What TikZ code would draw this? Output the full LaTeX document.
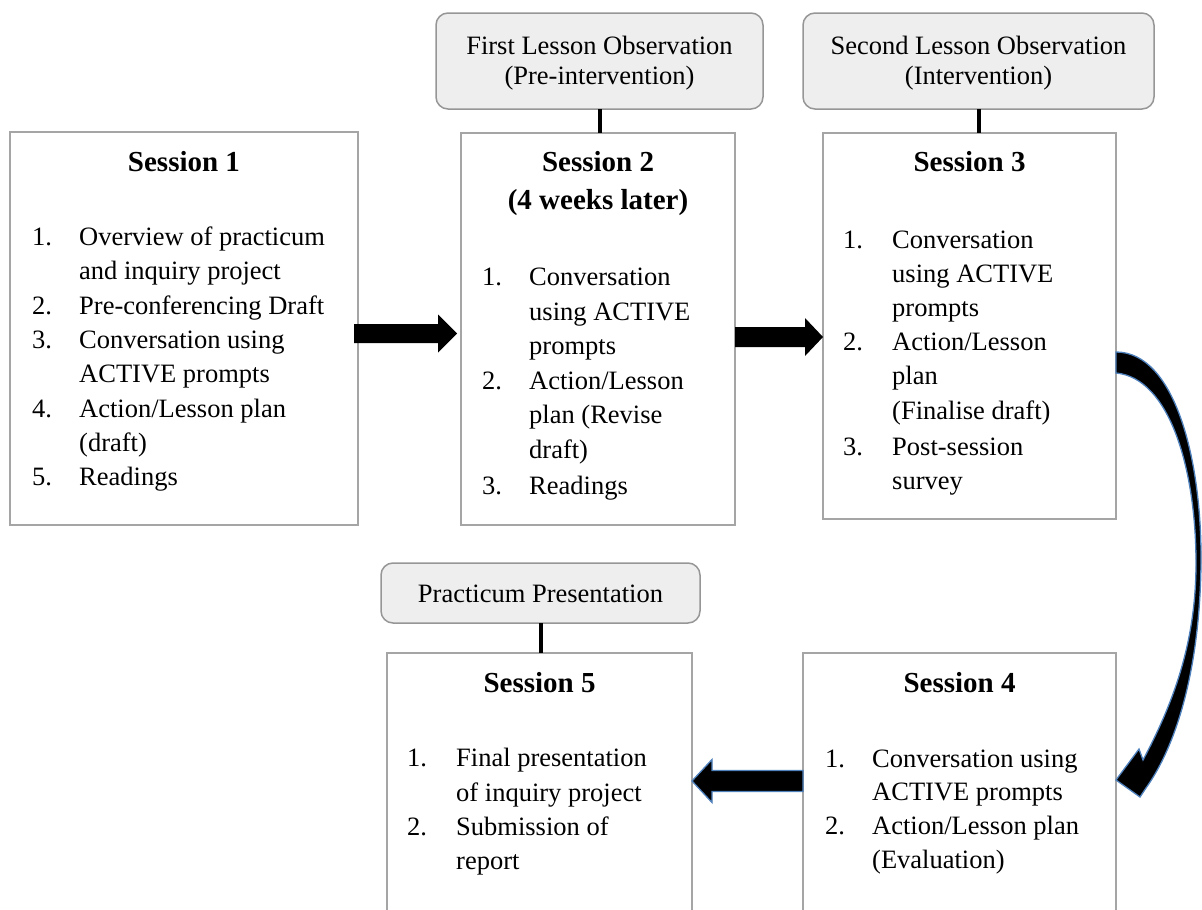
\documentclass[tikz,border=0pt]{standalone}
\usepackage{fontspec}
\setmainfont{Liberation Serif}
\usetikzlibrary{calc}
\definecolor{boxgray}{RGB}{165,165,165}
\definecolor{topfill}{RGB}{238,238,238}
\definecolor{topline}{RGB}{150,150,150}
\definecolor{arrowblue}{RGB}{79,129,189}
\begin{document}
\begin{tikzpicture}[x=1pt,y=-1pt,
  sess/.style={draw=boxgray, line width=1.5pt, fill=white, inner sep=0pt, outer sep=0pt},
  obs/.style={draw=topline, line width=1.5pt, fill=topfill, rounded corners=12pt, inner sep=0pt, outer sep=0pt},
  body/.style={font=\fontsize{26.5}{34}\selectfont, inner sep=0pt, anchor=base west},
  cbody/.style={font=\fontsize{26.5}{34}\selectfont, inner sep=0pt, anchor=base},
  ttl/.style={font=\fontsize{29}{38}\selectfont\bfseries, inner sep=0pt, anchor=base},
  conn/.style={line width=4pt, black},
  blk/.style={fill=black},
  blkb/.style={fill=black, draw=arrowblue, line width=1.3pt, line join=miter}]
\useasboundingbox (0,0) rectangle (1202,910);

% session boxes
\node[sess, minimum width=348pt, minimum height=393pt] (s1) at (184,328.5) {};
\node[sess, minimum width=274pt, minimum height=392pt] (s2) at (598,329) {};
\node[sess, minimum width=293pt, minimum height=386pt] (s3) at (969.5,326) {};
\node[sess, minimum width=305pt, minimum height=262pt] (s5) at (539.5,784) {};
\node[sess, minimum width=313pt, minimum height=262pt] (s4) at (959.5,784) {};

% top boxes
\node[obs, minimum width=327pt, minimum height=96pt] (obs1) at (599.5,61) {};
\node[obs, minimum width=351pt, minimum height=96pt] (obs2) at (978.5,61) {};
\node[obs, minimum width=319pt, minimum height=60pt] (pres) at (540.5,593) {};
\node[cbody] (obs1a) at (599.5,54) {First Lesson Observation};
\node[cbody] (obs1b) at (599.5,84) {(Pre-intervention)};
\node[cbody] (obs2a) at (978.5,54) {Second Lesson Observation};
\node[cbody] (obs2b) at (978.5,84) {(Intervention)};
\node[cbody] (presa) at (540.5,602) {Practicum Presentation};

% connectors
\draw[conn] (obs1.south) -- (obs1.south |- s2.north);
\draw[conn] (obs2.south) -- (obs2.south |- s3.north);
\draw[conn] (pres.south) -- (pres.south |- s5.north);

% Session 1
\node[ttl] (s1t) at (184,171) {Session 1};
\node[body] (s1n1) at (32,245) {1.};
\node[body] (s1l1) at (79,245) {Overview of practicum};
\node[body] (s1l2) at (79,279) {and inquiry project};
\node[body] (s1n2) at (32,314) {2.};
\node[body] (s1l3) at (79,314) {Pre-conferencing Draft};
\node[body] (s1n3) at (32,348) {3.};
\node[body] (s1l4) at (79,348) {Conversation using};
\node[body] (s1l5) at (79,382) {ACTIVE prompts};
\node[body] (s1n4) at (32,417) {4.};
\node[body] (s1l6) at (79,417) {Action/Lesson plan};
\node[body] (s1l7) at (79,451) {(draft)};
\node[body] (s1n5) at (32,485) {5.};
\node[body] (s1l8) at (79,485) {Readings};

% Session 2
\node[ttl] (s2t) at (598,171) {Session 2};
\node[ttl] (s2u) at (598,209) {(4 weeks later)};
\node[body] (s2n1) at (482,285) {1.};
\node[body] (s2l1) at (529,285) {Conversation};
\node[body] (s2l2) at (529,320) {using ACTIVE};
\node[body] (s2l3) at (529,354) {prompts};
\node[body] (s2n2) at (482,389) {2.};
\node[body] (s2l4) at (529,389) {Action/Lesson};
\node[body] (s2l5) at (529,423) {plan (Revise};
\node[body] (s2l6) at (529,458) {draft)};
\node[body] (s2n3) at (482,494) {3.};
\node[body] (s2l7) at (529,494) {Readings};

% Session 3
\node[ttl] (s3t) at (969.5,171) {Session 3};
\node[body] (s3n1) at (843,248) {1.};
\node[body] (s3l1) at (892,248) {Conversation};
\node[body] (s3l2) at (892,282) {using ACTIVE};
\node[body] (s3l3) at (892,316) {prompts};
\node[body] (s3n2) at (843,350) {2.};
\node[body] (s3l4) at (892,350) {Action/Lesson};
\node[body] (s3l5) at (892,384) {plan};
\node[body] (s3l6) at (892,419) {(Finalise draft)};
\node[body] (s3n3) at (843,455) {3.};
\node[body] (s3l7) at (892,455) {Post-session};
\node[body] (s3l8) at (892,489) {survey};

% Session 5
\node[ttl] (s5t) at (539.5,692) {Session 5};
\node[body] (s5n1) at (407,766) {1.};
\node[body] (s5l1) at (456,766) {Final presentation};
\node[body] (s5l2) at (456,801) {of inquiry project};
\node[body] (s5n2) at (407,835) {2.};
\node[body] (s5l3) at (456,835) {Submission of};
\node[body] (s5l4) at (456,869) {report};

% Session 4
\node[ttl] (s4t) at (959.5,692) {Session 4};
\node[body] (s4n1) at (825,767) {1.};
\node[body] (s4l1) at (872,767) {Conversation using};
\node[body] (s4l2) at (872,800) {ACTIVE prompts};
\node[body] (s4n2) at (825,834) {2.};
\node[body] (s4l3) at (872,834) {Action/Lesson plan};
\node[body] (s4l4) at (872,868) {(Evaluation)};

% arrow 1 -> 2
\coordinate (a1) at (s1.east |- 0,333.5);
\coordinate (b1) at (s2.west |- 0,333.5);
\fill[blk] ($(a1)+(-4,-9.5)$) -- ($(b1)+(-23,-9.5)$) -- ($(b1)+(-23,-19)$) -- ($(b1)+(-4,0)$)
  -- ($(b1)+(-23,19)$) -- ($(b1)+(-23,9.5)$) -- ($(a1)+(-4,9.5)$) -- cycle;

% arrow 2 -> 3
\coordinate (a2) at (s2.east |- 0,337);
\coordinate (b2) at (s3.west |- 0,337);
\fill[blk] ($(a2)+(0,-10)$) -- ($(b2)+(-18,-10)$) -- ($(b2)+(-18,-19)$) -- (b2)
  -- ($(b2)+(-18,19)$) -- ($(b2)+(-18,10)$) -- ($(a2)+(0,10)$) -- cycle;

% arrow 4 -> 5
\coordinate (a3) at (s4.west |- 0,781);
\coordinate (b3) at (s5.east |- 0,781);
\filldraw[blkb] ($(a3)+(0,-10.5)$) -- ($(b3)+(20,-10.5)$) -- ($(b3)+(20,-21.5)$) -- (b3)
  -- ($(b3)+(20,21.5)$) -- ($(b3)+(20,10.5)$) -- ($(a3)+(0,10.5)$) -- cycle;

% curved arrow 3 -> 4
\coordinate (a4) at (s3.east |- 0,362.5);
\coordinate (b4) at (s4.east |- 0,780);
\filldraw[blkb] ($(a4)+(0,-10.5)$)
  .. controls ($(a4)+(59,-10.5)$) and ($(a4)+(86,97.5)$) .. ($(a4)+(85,200.5)$)
  .. controls ($(b4)+(84,-120)$) and ($(b4)+(64,-40)$) .. ($(b4)+(30,8)$)
  -- ($(b4)+(24,17)$) -- (b4) -- ($(b4)+(23,-31)$) -- ($(b4)+(27,-20)$)
  .. controls ($(b4)+(59,-80)$) and ($(b4)+(80,-140)$) .. ($(a4)+(80,200.5)$)
  .. controls ($(a4)+(80,107.5)$) and ($(a4)+(54,15.5)$) .. ($(a4)+(0,10.5)$) -- cycle;
\end{tikzpicture}
\end{document}
